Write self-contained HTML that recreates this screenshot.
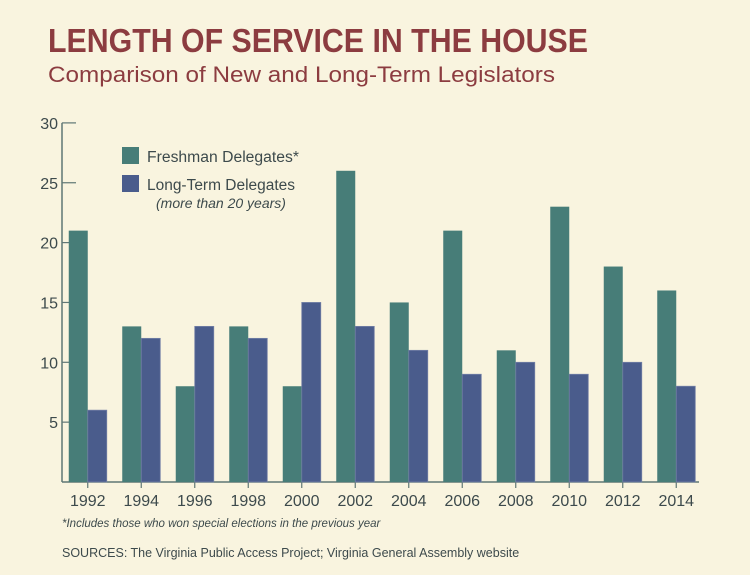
<!DOCTYPE html>
<html><head><meta charset="utf-8"><style>
body{margin:0;background:#f9f4df;width:750px;height:575px;overflow:hidden;font-family:"Liberation Sans",sans-serif}
</style></head><body>
<svg width="750" height="575" style="position:absolute;left:0;top:0">
<rect width="750" height="575" fill="#f9f4df"/>
<text x="48" y="52" font-size="33" font-weight="bold" fill="#8c3c40" textLength="540" lengthAdjust="spacingAndGlyphs">LENGTH OF SERVICE IN THE HOUSE</text>
<text x="48" y="82" font-size="22" fill="#8c3c40" textLength="507" lengthAdjust="spacingAndGlyphs">Comparison of New and Long-Term Legislators</text>
<g id="axes"></g>
<g id="bars"></g>
<g>
<rect x="122" y="147" width="17" height="17" fill="#477d78"/>
<text x="147" y="162" font-size="15.5" fill="#3d4a4c" textLength="152" lengthAdjust="spacingAndGlyphs">Freshman Delegates*</text>
<rect x="122" y="175" width="17" height="17" fill="#4a5c8c"/>
<text x="147" y="190" font-size="15.5" fill="#3d4a4c" textLength="148" lengthAdjust="spacingAndGlyphs">Long-Term Delegates</text>
<text x="156" y="208" font-size="14" font-style="italic" fill="#3d4a4c">(more than 20 years)</text>
</g>
<text x="62" y="527" font-size="11.5" font-style="italic" fill="#3d4a4c">*Includes those who won special elections in the previous year</text>
<text x="62" y="557" font-size="12.5" fill="#3d4a4c">SOURCES: The Virginia Public Access Project; Virginia General Assembly website</text>
</svg>
<script>
const years=["1992","1994","1996","1998","2000","2002","2004","2006","2008","2010","2012","2014"];
const freshman=[21,13,8,13,8,26,15,21,11,23,18,16];
const longTerm=[6,12,13,12,15,13,11,9,10,9,10,8];
const yTicks=[5,10,15,20,25,30];
const NS="http://www.w3.org/2000/svg";
const x0=62,gw=53.5,y0=482,ppu=11.97;
const y=v=>y0-v*ppu;
const gx=i=>x0+gw*(i+0.5)-1;
function mk(tag,attrs,parent){const e=document.createElementNS(NS,tag);for(const k in attrs)e.setAttribute(k,attrs[k]);parent.appendChild(e);return e;}
const axes=document.getElementById('axes'),bars=document.getElementById('bars');
let l=mk('line',{x1:x0,y1:y(30),x2:x0,y2:y0,stroke:'#5f7775','stroke-width':1.5},axes);


l=mk('line',{x1:x0,y1:y0,x2:x0+gw*12-5,y2:y0,stroke:'#5f7775','stroke-width':1.5},axes);


yTicks.forEach(v=>{
  const t=mk('line',{x1:x0,y1:y(v),x2:x0+14,y2:y(v),stroke:'#5f7775','stroke-width':1.2},axes);
  
  
  const tx=mk('text',{x:x0-4,y:y(v)+6,'text-anchor':'end','font-size':16,fill:'#3d4a4c'},axes);
  tx.textContent=v;
  
  
});
years.forEach((yr,i)=>{
  const c=gx(i);
  const b1=mk('rect',{x:c-19,y:y(freshman[i]),width:19,height:freshman[i]*ppu,fill:'#477d78'},bars);
  
  
  const b2=mk('rect',{x:c,y:y(longTerm[i]),width:19,height:longTerm[i]*ppu,fill:'#4a5c8c',stroke:'#7380a6','stroke-width':0.8},bars);
  
  
  const t=mk('line',{x1:c,y1:y0,x2:c,y2:y0+6,stroke:'#5f7775','stroke-width':1.2},axes);
  
  
  const tx=mk('text',{x:c,y:y0+24,'text-anchor':'middle','font-size':16,fill:'#3d4a4c'},axes);
  tx.textContent=yr;
  
  
});
</script>
</body></html>
